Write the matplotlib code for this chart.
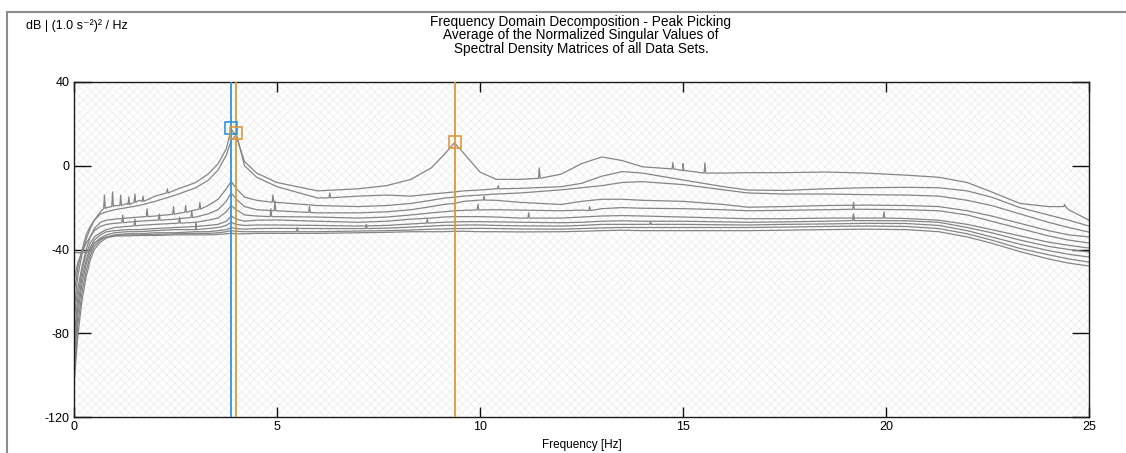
import numpy as np
import matplotlib
matplotlib.use("Agg")
import matplotlib.pyplot as plt
from matplotlib.lines import Line2D
from matplotlib.patches import Rectangle

plt.rcParams['font.family'] = ['Liberation Sans', 'DejaVu Sans']
plt.rcParams['axes.unicode_minus'] = False
plt.rcParams['hatch.linewidth'] = 0.5

######## Data
### common frequency grid [Hz]
freq_hz = [0, 0.05, 0.1, 0.2, 0.3, 0.4, 0.5, 0.65, 0.8, 1.0, 1.3, 1.6, 2.0, 2.5, 3.0, 3.3,
           3.55, 3.75, 3.87, 4.0, 4.2, 4.5, 5.0, 6.0, 7.0, 7.7, 8.3, 8.8, 9.1, 9.37, 9.6,
           10.0, 10.4, 11.0, 12.0, 12.5, 13.0, 13.5, 14.0, 15.0, 16.0, 16.6, 17.5, 18.5,
           19.5, 20.5, 21.3, 22.0, 22.6, 23.3, 24.0, 24.5, 25.0]

### normalized singular values [dB], first to tenth
sv1 = [-70, -60, -52, -42, -35, -30, -26, -22, -20, -19, -18, -16.5, -14.5, -11.5, -8, -4,
       1, 8, 17.5, 14, 2, -3.5, -8, -12, -11, -9.5, -6.5, -1, 5, 11, 6,
       -3, -6.5, -6.5, -4, 1, 4.2, 2.5, -0.5, -2.5, -3.5, -3.3, -3.3, -3.0,
       -3.5, -4.5, -5.5, -8, -12.5, -18, -19.5, -21, -26]
sv2 = [-60, -55, -48, -40, -33, -29, -26, -23, -22, -21, -20, -19, -17, -14, -10.5, -7,
       -2, 5, 12, 15, 0, -5.5, -10, -15.4, -14.5, -14, -14.5, -13.5, -13, -12.5, -12,
       -11.6, -11, -10.8, -10, -8.4, -5, -2.8, -3.5, -6.8, -10, -11.6, -11.8, -11,
       -10.5, -10.3, -10.5, -12, -15, -20, -23.5, -26, -28.8]
sv3 = [-75, -65, -58, -48, -40, -34, -30, -27, -26, -25.5, -25, -24.5, -24, -23, -21, -19,
       -16, -11, -7.5, -11, -15, -16.5, -17.5, -19, -19.5, -19, -18, -16.5, -15.5, -15, -14.5,
       -14, -13.5, -13, -11.5, -10.5, -9.5, -8, -7.6, -9, -11.5, -13, -13.5, -13.5,
       -13.8, -14, -14.5, -16.5, -19, -23, -27, -29.5, -31.7]
sv4 = [-55, -50, -46, -41, -37, -34, -31, -29, -28, -27.5, -27, -26.5, -26, -25.5, -24.5, -23,
       -21, -17, -13, -16, -19.5, -21, -21.5, -22.5, -22.5, -22, -21, -19.5, -18.5, -18, -17,
       -16.4, -16.5, -17.5, -18.5, -17, -16, -16, -16.5, -17, -18.5, -19.8, -19.5, -19,
       -18.8, -19, -19.5, -21.5, -24, -27.5, -31, -33, -34]
sv5 = [-85, -72, -62, -50, -42, -37, -34, -32, -30.5, -29.5, -29, -28.5, -28, -27.5, -27, -26,
       -25, -22, -19, -21, -23.5, -24, -24.3, -24.5, -25, -24.5, -23.5, -22.5, -22, -21.5, -21.3,
       -21.1, -21, -21.2, -21.5, -21.2, -20.5, -20, -20.3, -20.5, -21, -21.5, -21.3, -21,
       -20.8, -21, -21.5, -23.5, -26.5, -30, -33.5, -35.5, -36.9]
sv6 = [-90, -78, -66, -53, -45, -39, -35.5, -33, -31.5, -31, -30.5, -30.5, -30, -29.5, -29, -28.5,
       -28, -26.5, -24, -25.5, -26.5, -26, -25.9, -26.5, -27, -26.5, -25.5, -25, -24.5, -24.3, -24.3,
       -24.3, -24.5, -25, -25, -24.5, -24, -23.8, -24, -24.5, -25, -25.3, -25.3, -25,
       -25, -25.2, -26, -28, -30.5, -33.5, -36.5, -38, -39.3]
sv7 = [-95, -82, -70, -56, -47, -41, -37, -34.5, -33, -32, -31.5, -31.5, -31, -30.5, -30.5, -30,
       -29.5, -28.5, -27, -28, -28.5, -28.3, -28.3, -28.5, -28.8, -28.5, -27.8, -27.3, -27, -26.8, -26.7,
       -26.7, -26.8, -27, -27.2, -27, -26.5, -26.3, -26.5, -26.5, -26.8, -27, -26.8, -26.5,
       -26.2, -26.3, -27, -29.5, -32, -35.5, -38.5, -40, -41.2]
sv8 = [-100, -88, -75, -60, -50, -43, -38.5, -35.5, -34, -33, -32.5, -32.5, -32, -32, -31.5, -31.5,
       -31, -30.5, -29.5, -30, -30.3, -30, -29.9, -30, -30, -29.8, -29.3, -28.8, -28.5, -28.5, -28.3,
       -28.3, -28.5, -28.7, -28.8, -28.5, -28, -28, -28, -28, -28.2, -28.3, -28, -27.8,
       -27.5, -27.6, -28.5, -31, -34, -37.5, -40.5, -42.3, -43.6]
sv9 = [-105, -92, -80, -64, -53, -45, -40, -36.5, -34.5, -33.5, -33, -33, -32.8, -32.5, -32.3, -32.3,
       -32, -31.5, -31, -31.3, -31.5, -31.5, -31.5, -31.5, -31.2, -31, -30.7, -30.3, -30.2, -30, -30,
       -29.9, -30, -30.2, -30.3, -30, -29.7, -29.5, -29.5, -29.5, -29.5, -29.5, -29.3, -29,
       -28.8, -29, -30, -32.5, -35.5, -39.5, -42.5, -44.5, -46]
sv10 = [-41.5, -41.5, -41.5, -41.5, -41.5, -40, -37, -35, -34, -33.5, -33.5, -33.3, -33.3, -33, -33, -33,
        -32.8, -32.5, -32.3, -32.5, -32.5, -32.3, -32.3, -32.3, -32, -31.8, -31.5, -31.5, -31.5, -31.3, -31.3,
        -31.5, -31.5, -31.6, -31.5, -31.3, -31, -30.8, -31, -31, -31, -31, -30.8, -30.5,
        -30.3, -30.5, -31.5, -34, -37, -41, -44.5, -46.5, -47.9]
singular_values = [sv1, sv2, sv3, sv4, sv5, sv6, sv7, sv8, sv9, sv10]

### narrow spikes: (curve index, frequency, base dB, apex dB)
spikes = [(0, 0.75, -20.5, -14), (0, 0.95, -19.5, -12.5), (0, 1.15, -19, -14),
          (0, 1.35, -18.5, -15), (0, 1.5, -17.5, -13.5), (0, 1.7, -17, -14.5),
          (0, 2.3, -13, -11), (0, 11.46, -6, -1), (0, 14.75, -1.5, 1.5),
          (0, 15.0, -2.2, 1.0), (0, 15.54, -3.5, 1.3), (0, 24.4, -19.5, -18.5),
          (1, 6.3, -15.3, -13), (1, 10.45, -11, -9.5),
          (2, 1.8, -24.3, -20.5), (2, 2.45, -23.2, -19.5), (2, 2.75, -22.2, -19),
          (2, 3.1, -20.7, -17.5), (2, 4.9, -17.4, -14),
          (3, 1.2, -27.2, -23.5), (3, 2.1, -26, -23), (3, 2.9, -24.7, -21.5),
          (3, 4.95, -21.5, -17), (3, 5.8, -22.3, -19.5), (3, 10.1, -16.4, -14.5),
          (4, 1.5, -28.7, -25.5), (4, 2.6, -27.4, -24.5), (4, 4.85, -24.3, -20.5),
          (4, 9.95, -21.1, -18.5), (4, 19.2, -20.8, -17.5), (4, 12.7, -21.4, -19.5),
          (5, 11.2, -25, -22.5), (5, 19.95, -25, -22), (5, 19.2, -25, -23),
          (6, 3.0, -30.5, -27.5), (6, 8.7, -27.4, -25.5), (6, 19.2, -26.2, -24),
          (7, 7.2, -30, -28), (7, 14.2, -28, -26.5), (8, 5.5, -31.5, -29.5)]

### picked peaks
pick_freq = [3.86, 3.98, 9.38]
pick_db = [18.0, 15.6, 11.3]
pick_color = ['#2f95db', '#dc9a3c', '#dc9a3c']

x_ticks = [0, 5, 10, 15, 20, 25]
y_ticks = [-120, -80, -40, 0, 40]


###Merge a curve with its spikes, sorted on frequency
def curveWithSpikes(idx):
    pts = list(zip(freq_hz, singular_values[idx]))
    for c, f, base, apex in spikes:
        if c == idx:
            pts += [(f - 0.02, base), (f, apex), (f + 0.02, base)]
    pts.sort()
    f, v = zip(*pts)
    return f, v


fig = plt.figure(figsize=(11.26, 4.53), dpi=100)
ax = fig.add_axes([74/1126, 36/453, 1015/1126, 335/453])

### light cross hatch behind the curves
bg = Rectangle((0, 0), 1, 1, transform=ax.transAxes, facecolor='white',
               edgecolor='#ebebeb', hatch='xxxx', lw=0, zorder=0)
ax.add_patch(bg)

for i in range(len(singular_values)):
    f, v = curveWithSpikes(i)
    ax.plot(f, v, color='#858585', lw=0.9, zorder=2)

for f, d, c in zip(pick_freq, pick_db, pick_color):
    ax.axvline(f, color=c, lw=1.3, zorder=3)
    ax.plot([f], [d], marker='s', ms=8.5, mfc='none', mec=c, mew=1.2, zorder=4)

ax.set_xlim(0, 25)
ax.set_ylim(-120, 40)
ax.set_xticks(x_ticks)
ax.set_yticks(y_ticks)
ax.tick_params(axis='both', direction='in', labelsize=9, width=1, color='#111111', pad=3)
ax.tick_params(axis='x', length=7, top=True)
ax.tick_params(axis='y', length=12, right=True)
for s in ax.spines.values():
    s.set_color('#1a1a1a')
    s.set_linewidth(1.0)

ax.set_xlabel('Frequency [Hz]', fontsize=8.5, labelpad=4)

fig.text(581/1126, 1 - 15/453, 'Frequency Domain Decomposition - Peak Picking\n'
         'Average of the Normalized Singular Values of\n'
         'Spectral Density Matrices of all Data Sets.',
         ha='center', va='top', fontsize=9.8, linespacing=0.95)
fig.text(26/1126, 1 - 26/453, 'dB | (1.0 s\u207b\u00b2)\u00b2 / Hz', ha='left', va='center', fontsize=9)

### outer frame
fig.add_artist(Line2D([7/1126, 1], [1 - 12/453, 1 - 12/453], color='#8c8c8c', lw=1.5))
fig.add_artist(Line2D([7/1126, 7/1126], [0, 1 - 12/453], color='#8c8c8c', lw=1.5))

fig.savefig('out.png', dpi=100)
